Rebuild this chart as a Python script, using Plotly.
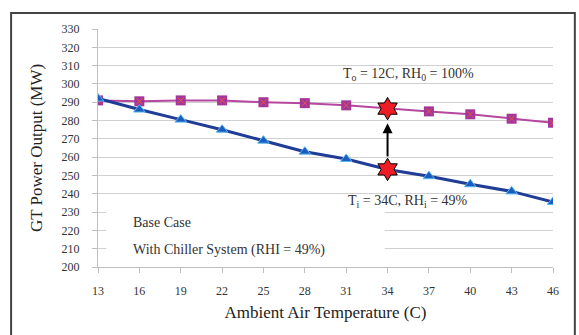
import plotly.graph_objects as go

temps = [13, 16, 19, 22, 25, 28, 31, 34, 37, 40, 43, 46]
chiller = [291, 290.5, 291, 291, 290, 289.5, 288.3, 286.5, 285, 283.4, 281, 278.8]
base = [292, 286, 280.5, 275, 269, 263, 259, 253.3, 249.6, 245.2, 241.3, 235.5]
star_x = [34, 34]
star_y = [286.5, 253.3]
y_ticks = list(range(200, 331, 10))
label_top = "T<sub>o</sub> = 12C, RH<sub>0</sub> = 100%"
label_bot = "T<sub>i</sub> = 34C, RH<sub>i</sub> = 49%"
legend_lines = ["Base Case", "With Chiller System (RHI = 49%)"]

FONT = "Liberation Serif, Times New Roman, serif"

fig = go.Figure()
fig.add_trace(go.Scatter(x=temps, y=chiller, mode="lines+markers",
                         line=dict(color="#b6479f", width=2),
                         marker=dict(symbol="square", size=10, color="#a3369a",
                                     line=dict(width=0)),
                         showlegend=False, hoverinfo="skip"))
fig.add_trace(go.Scatter(x=temps, y=chiller, mode="markers",
                         marker=dict(symbol="x-thin-open", size=6,
                                     line=dict(color="#4a0d44", width=1)),
                         showlegend=False, hoverinfo="skip"))
fig.add_trace(go.Scatter(x=temps, y=base, mode="lines+markers",
                         line=dict(color="#1f3c96", width=3),
                         marker=dict(symbol="triangle-up", size=10, color="#1c5cc0",
                                     line=dict(color="#55b8f0", width=1)),
                         showlegend=False, hoverinfo="skip"))
fig.add_trace(go.Scatter(x=star_x, y=star_y, mode="markers",
                         marker=dict(symbol="hexagram", size=17, color="#ee1c24",
                                     line=dict(color="black", width=1)),
                         showlegend=False, hoverinfo="skip"))

# arrow from lower star to upper star
fig.add_annotation(x=34, y=278.5, ax=34, ay=259.5, xref="x", yref="y",
                   axref="x", ayref="y", text="", showarrow=True,
                   arrowhead=2, arrowsize=1, arrowwidth=2, arrowcolor="black")

fig.add_annotation(x=35.5, y=305, xref="x", yref="y", text=label_top,
                   showarrow=False, font=dict(family=FONT, size=14, color="#333"))
fig.add_annotation(x=35.5, y=236, xref="x", yref="y", text=label_bot,
                   showarrow=False, font=dict(family=FONT, size=14, color="#333"))

# legend box (symbols absent in original)
fig.add_shape(type="rect", x0=13.6, x1=33.8, y0=204, y1=233, xref="x", yref="y",
              fillcolor="white", line=dict(width=0), layer="above")
fig.add_annotation(x=15.4, y=224.5, xref="x", yref="y", text=legend_lines[0],
                   showarrow=False, xanchor="left",
                   font=dict(family=FONT, size=14, color="#333"))
fig.add_annotation(x=15.4, y=209.5, xref="x", yref="y", text=legend_lines[1],
                   showarrow=False, xanchor="left",
                   font=dict(family=FONT, size=14, color="#333"))

# outer frame
fig.add_shape(type="rect", xref="paper", yref="paper",
              x0=-0.191, x1=1.048, y0=-0.32, y1=1.067,
              line=dict(color="#444", width=2), fillcolor="rgba(0,0,0,0)")

fig.update_layout(
    width=579, height=335,
    margin=dict(l=98, r=26, t=29, b=68),
    paper_bgcolor="white", plot_bgcolor="white",
    font=dict(family=FONT, size=12, color="#333"),
    xaxis=dict(range=[13, 46], tickmode="array", tickvals=temps,
               ticktext=[str(t) for t in temps], showgrid=False,
               showline=True, linecolor="#bfbfbf", linewidth=1,
               ticks="outside", ticklen=5, tickcolor="#bfbfbf",
               ticklabelstandoff=8, zeroline=False,
               title=dict(text="Ambient Air Temperature (C)",
                          font=dict(family=FONT, size=17, color="#222"),
                          standoff=8)),
    yaxis=dict(range=[200, 330], tickmode="array", tickvals=y_ticks,
               showgrid=True, gridcolor="#d0d0d0", gridwidth=1,
               showline=True, linecolor="#bfbfbf", linewidth=1,
               ticks="outside", ticklen=5, tickcolor="#bfbfbf",
               ticklabelstandoff=10, zeroline=False,
               title=dict(text="GT Power Output (MW)",
                          font=dict(family=FONT, size=17, color="#222"),
                          standoff=14)),
)

fig.write_html("out.html")
